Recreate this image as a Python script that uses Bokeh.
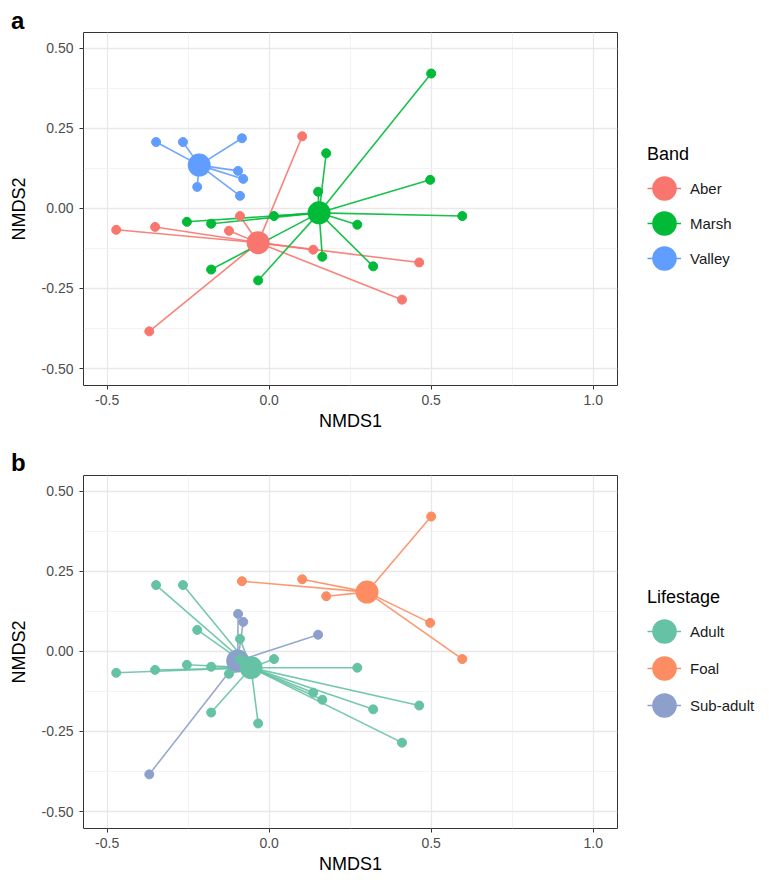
from bokeh.plotting import figure
from bokeh.models import ColumnDataSource, FixedTicker, Legend, LegendItem, Range1d, Div
from bokeh.layouts import column
from bokeh.embed import file_html
from bokeh.resources import INLINE

# ---------------- data ----------------
nmds1 = [0.102, -0.472, -0.352, -0.124, -0.090, 0.136, -0.370, 0.463, 0.410,
         0.500, 0.176, 0.151, 0.497, 0.596, 0.272, 0.164, 0.321, -0.254, -0.179,
         0.015, -0.179, -0.034,
         -0.349, -0.266, -0.084, -0.096, -0.080, -0.222, -0.090]
nmds2 = [0.225, -0.067, -0.058, -0.070, -0.024, -0.129, -0.384, -0.169, -0.285,
         0.421, 0.172, 0.052, 0.089, -0.024, -0.051, -0.151, -0.181, -0.042, -0.048,
         -0.024, -0.191, -0.225,
         0.207, 0.207, 0.219, 0.117, 0.092, 0.067, 0.039]
band = ["Aber"] * 9 + ["Marsh"] * 13 + ["Valley"] * 7
lifestage = ["Foal", "Adult", "Adult", "Adult", "Adult", "Adult", "Sub-adult", "Adult", "Adult",
             "Foal", "Foal", "Sub-adult", "Foal", "Foal", "Adult", "Adult", "Adult", "Adult", "Adult",
             "Adult", "Adult", "Adult",
             "Adult", "Adult", "Foal", "Sub-adult", "Sub-adult", "Adult", "Adult"]

band_levels = ["Aber", "Marsh", "Valley"]
band_colors = ["#F8766D", "#00BA38", "#619CFF"]
band_cx = [-0.034, 0.154, -0.216]
band_cy = [-0.107, -0.014, 0.135]

life_levels = ["Adult", "Foal", "Sub-adult"]
life_colors = ["#66C2A5", "#FC8D62", "#8DA0CB"]
life_cx = [-0.056, 0.302, -0.097]
life_cy = [-0.051, 0.185, -0.030]

x_ticks = [-0.5, 0.0, 0.5, 1.0]
x_tick_labels = ["-0.5", "0.0", "0.5", "1.0"]
x_minor = [-0.25, 0.25, 0.75]
y_ticks = [-0.5, -0.25, 0.0, 0.25, 0.5]
y_tick_labels = ["-0.50", "-0.25", "0.00", "0.25", "0.50"]
y_minor = [-0.375, -0.125, 0.125, 0.375]
x_lim = (-0.573, 1.075)
y_lim = (-0.553, 0.549)

FONT = "Liberation Sans"
W = 768


def make_panel(groups, levels, colors, cx, cy, legend_title,
               top, bottom, legend_vy, legend_spacing):
    p = figure(frame_width=534, frame_height=353,
               min_border_left=83, min_border_right=W - 83 - 534,
               min_border_top=top, min_border_bottom=bottom,
               x_range=Range1d(*x_lim), y_range=Range1d(*y_lim),
               output_backend="svg", toolbar_location=None, tools="")
    p.background_fill_color = "white"
    p.border_fill_color = "white"
    p.outline_line_color = "#333333"
    p.outline_line_width = 1

    cmap = dict(zip(levels, colors))
    cen = {lv: (cx[i], cy[i]) for i, lv in enumerate(levels)}

    # spider segments from each group centroid to its samples
    seg = ColumnDataSource(dict(
        x0=[cen[g][0] for g in groups], y0=[cen[g][1] for g in groups],
        x1=nmds1, y1=nmds2, color=[cmap[g] for g in groups]))
    p.segment("x0", "y0", "x1", "y1", source=seg, line_color="color",
              line_width=1.6, line_alpha=0.9)

    # centroids (one renderer per group; also used for the legend keys)
    key_line = {}
    key_dot = {}
    for i in reversed(range(len(levels))):
        col = colors[i]
        key_line[i] = p.line(x=[cx[i]], y=[cy[i]], line_color=col, line_width=1.6)
        key_dot[i] = p.scatter(x=[cx[i]], y=[cy[i]], size=12, line_width=11,
                               fill_color=col, line_color=col)

    # samples
    psrc = ColumnDataSource(dict(x=nmds1, y=nmds2, color=[cmap[g] for g in groups]))
    p.scatter("x", "y", source=psrc, size=9, fill_color="color", line_color="color")

    # axes
    p.xaxis.ticker = FixedTicker(ticks=x_ticks, minor_ticks=x_minor)
    p.yaxis.ticker = FixedTicker(ticks=y_ticks, minor_ticks=y_minor)
    p.xaxis.major_label_overrides = {t: l for t, l in zip(x_ticks, x_tick_labels)}
    p.yaxis.major_label_overrides = {t: l for t, l in zip(y_ticks, y_tick_labels)}
    p.xaxis.axis_label = "NMDS1"
    p.yaxis.axis_label = "NMDS2"
    for ax in (p.xaxis[0], p.yaxis[0]):
        ax.axis_line_color = None
        ax.major_tick_line_color = "#333333"
        ax.major_tick_line_width = 1
        ax.major_tick_out = 4
        ax.major_tick_in = 0
        ax.minor_tick_line_color = None
        ax.major_label_text_font = FONT
        ax.major_label_text_font_size = "14px"
        ax.major_label_text_color = "#4D4D4D"
        ax.axis_label_text_font = FONT
        ax.axis_label_text_font_size = "18px"
        ax.axis_label_text_font_style = "normal"
        ax.axis_label_text_color = "black"
    p.xaxis.major_label_standoff = 5
    p.xaxis.axis_label_standoff = 3
    p.yaxis.major_label_standoff = 6
    p.yaxis.axis_label_standoff = 10

    for g in (p.xgrid[0], p.ygrid[0]):
        g.grid_line_color = "#E8E8E8"
        g.grid_line_width = 1.3
        g.minor_grid_line_color = "#F0F0F0"
        g.minor_grid_line_width = 0.8

    items = [LegendItem(label=lv, renderers=[key_line[i], key_dot[i]])
             for i, lv in enumerate(levels)]
    legend = Legend(items=items, title=legend_title, location=(30, legend_vy),
                    padding=5, margin=0, spacing=legend_spacing,
                    glyph_width=34, glyph_height=34, label_standoff=9,
                    label_text_font=FONT, label_text_font_size="15px",
                    label_text_color="#1A1A1A",
                    title_text_font=FONT, title_text_font_size="18px",
                    title_text_font_style="normal", title_text_color="black",
                    title_standoff=6,
                    border_line_color=None, background_fill_color=None,
                    background_fill_alpha=0)
    p.add_layout(legend, "right")
    return p


def letter_div(letter):
    html = ('<div style="font-family: \'Liberation Sans\', Arial, sans-serif; '
            'font-weight: bold; font-size: 24px; line-height: 24px; color: black; '
            'padding: 9px 0 0 11px; margin: 0;">%s</div>' % letter)
    return Div(text=html, width=W, height=31, margin=(0, 0, 0, 0))


p1 = make_panel(band, band_levels, band_colors, band_cx, band_cy, "Band",
                top=1, bottom=57, legend_vy=110, legend_spacing=1)
p2 = make_panel(lifestage, life_levels, life_colors, life_cx, life_cy, "Lifestage",
                top=2, bottom=51, legend_vy=106, legend_spacing=3)

layout = column(letter_div("a"), p1, letter_div("b"), p2, spacing=0)
open("out.html", "w").write(file_html(layout, INLINE))
